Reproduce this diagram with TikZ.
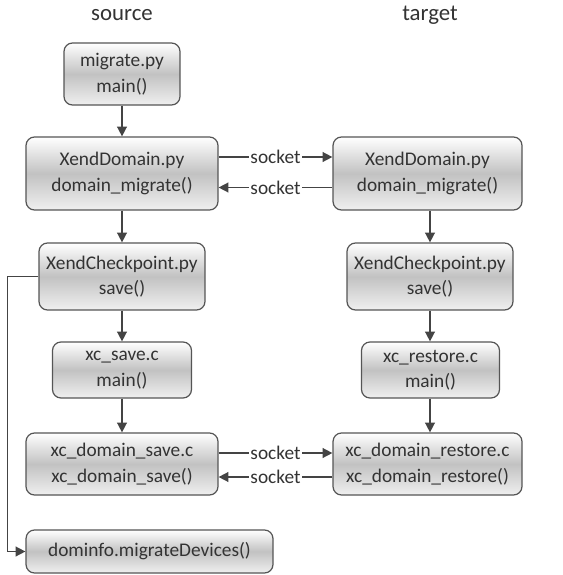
\documentclass[tikz,border=0pt]{standalone}
\usepackage{fontspec}
\setmainfont{Carlito}
\usepackage{tikz}
\usetikzlibrary{arrows.meta,positioning,calc}
\definecolor{edge}{HTML}{555555}
\definecolor{ink}{HTML}{333333}
\definecolor{line}{HTML}{444444}

\begin{document}
\begin{tikzpicture}[x=0.02cm,y=-0.02cm,
    func/.style={draw=edge, line width=0.7pt, rounded corners=0.17cm,
        top color=white, bottom color=black!6, middle color=black!24,
        align=center, text=ink, inner sep=0pt,
        font=\fontsize{11}{14.5}\selectfont},
    side/.style={text=ink, font=\fontsize{13}{16}\selectfont},
    flow/.style={draw=line, line width=0.85pt, -{Triangle[length=5.5pt,width=5.5pt]}},
    sock/.style={fill=white, text=ink, inner sep=1pt, font=\fontsize{11}{14}\selectfont}]
    \useasboundingbox (0,0) rectangle (563,575);
    % column titles
    \node[side] (src) at (122,15) {source};
    \node[side] (tgt) at (430,15) {target};
    % source side
    \node[func, minimum width=2.32cm, minimum height=1.24cm] (migrate) at (122,74) {migrate.py\\main()};
    \node[func, minimum width=3.84cm, minimum height=1.46cm] (xdsrc) at (122,173.5) {XendDomain.py\\domain\_migrate()};
    \node[func, minimum width=3.32cm, minimum height=1.34cm] (cpsrc) at (122,276.5) {XendCheckpoint.py\\save()};
    \node[func, minimum width=2.78cm, minimum height=1.12cm] (xcsave) at (122,370) {xc\_save.c\\main()};
    \node[func, minimum width=3.84cm, minimum height=1.24cm] (dsave) at (122,464) {xc\_domain\_save.c\\xc\_domain\_save()};
    \node[func, minimum width=4.94cm, minimum height=0.86cm] (dominfo) at (149.5,551.5) {dominfo.migrateDevices()};
    % target side
    \node[func, minimum width=3.78cm, minimum height=1.46cm] (xdtgt) at (427.5,173.5) {XendDomain.py\\domain\_migrate()};
    \node[func, minimum width=3.32cm, minimum height=1.34cm] (cptgt) at (430,276.5) {XendCheckpoint.py\\save()};
    \node[func, minimum width=2.76cm, minimum height=1.12cm] (xcrestore) at (430.5,370) {xc\_restore.c\\main()};
    \node[func, minimum width=3.78cm, minimum height=1.24cm] (drestore) at (427.5,464) {xc\_domain\_restore.c\\xc\_domain\_restore()};
    % calls
    \draw[flow] (migrate) -- (xdsrc);
    \draw[flow] (xdsrc) -- (cpsrc);
    \draw[flow] (cpsrc) -- (xcsave);
    \draw[flow] (xcsave) -- (dsave);
    \draw[flow] (xdtgt.south -| cptgt) -- (cptgt);
    \draw[flow] (cptgt) -- (cptgt |- xcrestore.north);
    \draw[flow] (cptgt |- xcrestore.south) -- (cptgt |- drestore.north);
    \draw[flow] (cpsrc.west) -- ([xshift=-0.62cm]cpsrc.west) |- (dominfo.west);
    % sockets
    \draw[flow] ([yshift=0.33cm]xdsrc.east) -- node[sock] {socket} ([yshift=0.33cm]xdtgt.west);
    \draw[flow] ([yshift=-0.28cm]xdtgt.west) -- node[sock] {socket} ([yshift=-0.28cm]xdsrc.east);
    \draw[flow] ([yshift=0.22cm]dsave.east) -- node[sock] {socket} ([yshift=0.22cm]drestore.west);
    \draw[flow] ([yshift=-0.26cm]drestore.west) -- node[sock] {socket} ([yshift=-0.26cm]dsave.east);
\end{tikzpicture}
\end{document}
